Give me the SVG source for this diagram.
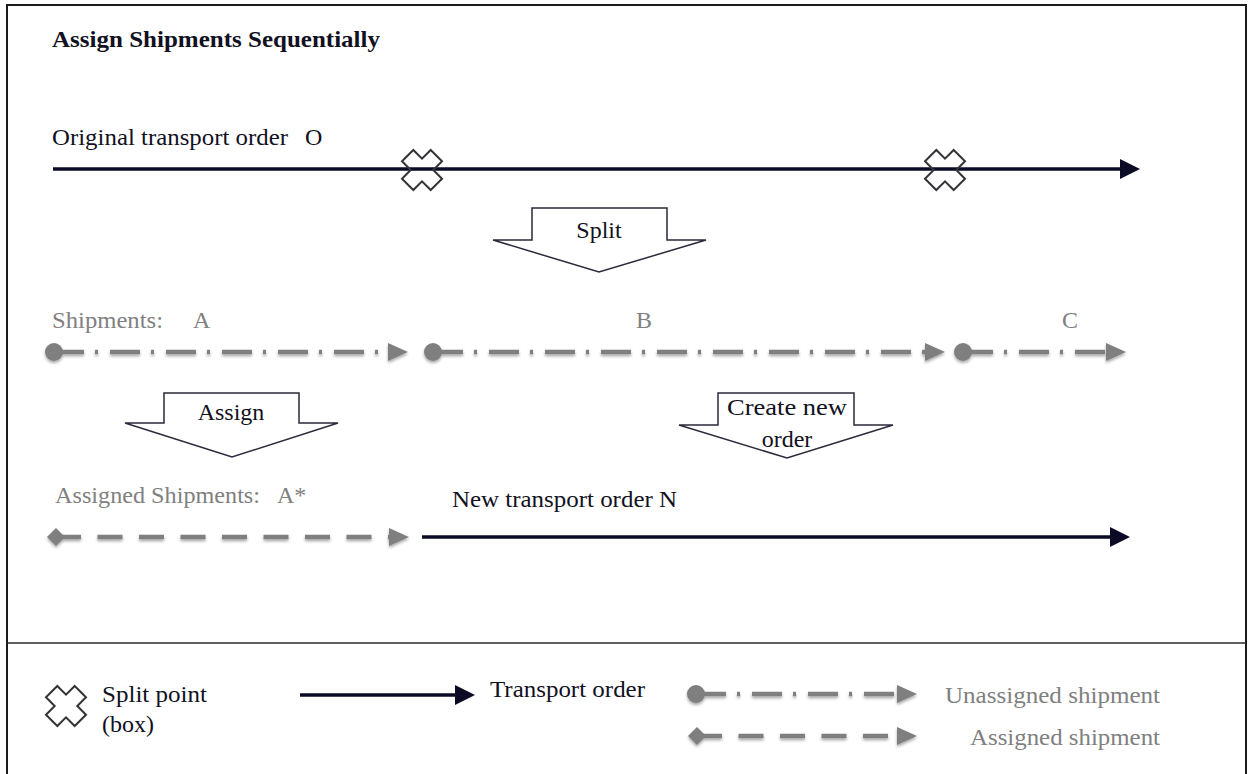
<svg xmlns="http://www.w3.org/2000/svg" width="1250" height="774" viewBox="0 0 1250 774">
<style>
  .t{fill:#111122}
  .g{fill:#808080}
  .b{font-weight:bold}
  .m{text-anchor:middle}
  .order{stroke:#0b0b26;stroke-width:3.5;fill:none}
  .ship{stroke:#7f7f7f;stroke-width:4.5;fill:none;stroke-dasharray:30 11 3 12}
  .asg{stroke:#7f7f7f;stroke-width:4.5;fill:none;stroke-dasharray:25 16.5}
  .blk{fill:#fff;stroke:#2a2a3a;stroke-width:1.5;stroke-linejoin:miter}
  .x{fill:none;stroke:#333338;stroke-width:2}
</style>
<defs>
  <marker id="ah" markerUnits="userSpaceOnUse" markerWidth="20" markerHeight="20" refX="0" refY="10" orient="auto">
    <path d="M0,0 L20,10 L0,20 z" fill="#0b0b26"/>
  </marker>
  <marker id="gh" markerUnits="userSpaceOnUse" markerWidth="20" markerHeight="18" refX="0" refY="9" orient="auto">
    <path d="M0,0 L20,9 L0,18 z" fill="#7f7f7f"/>
  </marker>
  <marker id="gc" markerUnits="userSpaceOnUse" markerWidth="20" markerHeight="20" refX="10" refY="10" orient="auto">
    <circle cx="10" cy="10" r="9" fill="#7f7f7f"/>
  </marker>
  <marker id="gd" markerUnits="userSpaceOnUse" markerWidth="20" markerHeight="20" refX="10" refY="10" orient="auto">
    <path d="M1,10 L10,1 L19,10 L10,19 z" fill="#7f7f7f"/>
  </marker>
  <filter id="sh" filterUnits="userSpaceOnUse" x="0" y="0" width="1250" height="774">
    <feDropShadow dx="0" dy="2" stdDeviation="1.5" flood-color="#000" flood-opacity="0.35"/>
  </filter>
  <path id="cross" class="x" d="M-8,-20.3 L8,-20.3 L8,-8 L20.3,-8 L20.3,8 L8,8 L8,20.3 L-8,20.3 L-8,8 L-20.3,8 L-20.3,-8 L-8,-8 z" transform="rotate(45)"/>
</defs>

<rect x="7" y="5" width="1239" height="780" fill="#fff" stroke="#1a1a1a" stroke-width="2"/>
<line x1="7" y1="643" x2="1246" y2="643" stroke="#2a2a2a" stroke-width="1.5"/>

<g id="connectors">
  <line class="order" x1="53" y1="169" x2="1120" y2="169" marker-end="url(#ah)"/>
  <g filter="url(#sh)">
    <line class="ship" x1="54" y1="352" x2="388" y2="352" marker-start="url(#gc)" marker-end="url(#gh)"/>
    <line class="ship" x1="433" y1="352" x2="925" y2="352" marker-start="url(#gc)" marker-end="url(#gh)"/>
    <line class="ship" x1="963" y1="352" x2="1106" y2="352" marker-start="url(#gc)" marker-end="url(#gh)"/>
    <line class="asg" x1="56" y1="537" x2="389" y2="537" marker-start="url(#gd)" marker-end="url(#gh)"/>
  </g>
  <line class="order" x1="422" y1="537" x2="1110" y2="537" marker-end="url(#ah)"/>
</g>

<g font-family="Liberation Serif, Times New Roman, serif" font-size="24">

<text class="t b" x="52" y="47" textLength="328" lengthAdjust="spacingAndGlyphs">Assign Shipments Sequentially</text>

<g id="original-order">
  <text class="t" x="52" y="145" textLength="236" lengthAdjust="spacingAndGlyphs">Original transport order</text>
  <text class="t" x="305" y="145">O</text>
</g>

<g id="split-point-1"><use href="#cross" transform="translate(422,170)"/></g>
<g id="split-point-2"><use href="#cross" transform="translate(945,170)"/></g>

<g id="split-arrow">
  <path class="blk" d="M532,208 L667,208 L667,240 L706,240 L599,272 L493,240 L532,240 z"/>
  <text class="t m" x="599" y="238">Split</text>
</g>

<g id="shipments">
  <text class="g" x="52" y="328" textLength="111" lengthAdjust="spacingAndGlyphs">Shipments:</text>
  <text class="g" x="193" y="328">A</text>
  <text class="g" x="636" y="328">B</text>
  <text class="g" x="1062" y="328">C</text>
</g>

<g id="assign-arrow">
  <path class="blk" d="M164,393 L299,393 L299,423 L338,423 L232,457 L125,423 L164,423 z"/>
  <text class="t m" x="231" y="420">Assign</text>
</g>

<g id="create-arrow">
  <path class="blk" d="M718,393 L854,393 L854,425 L893,425 L787,458 L679,425 L718,425 z"/>
  <text class="t m" x="787" y="415" textLength="120" lengthAdjust="spacingAndGlyphs">Create new</text>
  <text class="t m" x="787" y="447">order</text>
</g>

<g id="assigned-shipments">
  <text class="g" x="55" y="503" textLength="205" lengthAdjust="spacingAndGlyphs">Assigned Shipments:</text>
  <text class="g" x="277" y="503">A*</text>
</g>

<g id="new-order">
  <text class="t" x="452" y="507" textLength="225" lengthAdjust="spacingAndGlyphs">New transport order N</text>
</g>

<g id="legend">
  <use href="#cross" transform="translate(66,706)"/>
  <text class="t" x="102" y="702" textLength="105" lengthAdjust="spacingAndGlyphs">Split point</text>
  <text class="t" x="102" y="732">(box)</text>
  <line class="order" x1="300" y1="695" x2="455" y2="695" marker-end="url(#ah)"/>
  <text class="t" x="490" y="697" textLength="155" lengthAdjust="spacingAndGlyphs">Transport order</text>
  <g filter="url(#sh)">
    <line class="ship" x1="696" y1="694" x2="897" y2="694" marker-start="url(#gc)" marker-end="url(#gh)"/>
    <line class="asg" x1="697" y1="736" x2="897" y2="736" marker-start="url(#gd)" marker-end="url(#gh)"/>
  </g>
  <text class="g" x="945" y="703" textLength="215" lengthAdjust="spacingAndGlyphs">Unassigned shipment</text>
  <text class="g" x="970" y="745" textLength="190" lengthAdjust="spacingAndGlyphs">Assigned shipment</text>
</g>
</g>
</svg>
